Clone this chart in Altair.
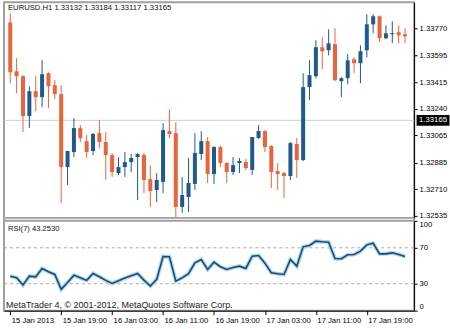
import json
import altair as alt
import pandas as pd

# ---------------- data ----------------
opens = [1.33811, 1.33489, 1.33456, 1.33193, 1.33357, 1.33318, 1.33476, 1.33397, 1.33338, 1.32857,
         1.32956, 1.33114, 1.33028, 1.32963, 1.33081, 1.33022, 1.32936, 1.32818, 1.32857, 1.32890,
         1.32923, 1.32936, 1.32778, 1.32706, 1.32759, 1.33094, 1.33081, 1.32594, 1.32660, 1.32746,
         1.32943, 1.33028, 1.32811, 1.32989, 1.32884, 1.32824, 1.32884, 1.32890, 1.32838, 1.33048,
         1.33094, 1.32996, 1.32831, 1.32818, 1.32798, 1.33009, 1.32903, 1.33384, 1.33456, 1.33647,
         1.33627, 1.33667, 1.33423, 1.33443, 1.33568, 1.33542, 1.33627, 1.33798, 1.33851, 1.33706,
         1.33733, 1.33746, 1.33733]
highs = [1.33871, 1.33575, 1.33463, 1.33390, 1.33456, 1.33561, 1.33482, 1.33430, 1.33397, 1.32963,
         1.33180, 1.33134, 1.33068, 1.33081, 1.33167, 1.33088, 1.32950, 1.32923, 1.32956, 1.32943,
         1.32950, 1.32950, 1.32870, 1.32818, 1.33147, 1.33239, 1.33153, 1.32792, 1.32917, 1.33081,
         1.33094, 1.33055, 1.32996, 1.32996, 1.32890, 1.32923, 1.32917, 1.32910, 1.33055, 1.33134,
         1.33100, 1.33002, 1.32884, 1.32824, 1.33022, 1.33048, 1.33476, 1.33561, 1.33693, 1.33713,
         1.33765, 1.33772, 1.33450, 1.33601, 1.33581, 1.33660, 1.33864, 1.33864, 1.33857, 1.33792,
         1.33818, 1.33792, 1.33772]
lows = [1.33410, 1.33344, 1.33088, 1.33114, 1.33226, 1.33252, 1.33246, 1.33305, 1.32621, 1.32739,
        1.32923, 1.33022, 1.32917, 1.32936, 1.32982, 1.32772, 1.32792, 1.32805, 1.32792, 1.32824,
        1.32640, 1.32686, 1.32594, 1.32627, 1.32686, 1.33048, 1.32528, 1.32555, 1.32561, 1.32706,
        1.32903, 1.32752, 1.32746, 1.32857, 1.32752, 1.32805, 1.32818, 1.32838, 1.32805, 1.33042,
        1.32956, 1.32719, 1.32706, 1.32653, 1.32772, 1.32785, 1.32897, 1.33298, 1.33443, 1.33502,
        1.33594, 1.33423, 1.33318, 1.33403, 1.33476, 1.33410, 1.33581, 1.33739, 1.33680, 1.33700,
        1.33673, 1.33673, 1.33673]
closes = [1.33482, 1.33456, 1.33193, 1.33357, 1.33318, 1.33469, 1.33390, 1.33338, 1.32857, 1.32963,
          1.33114, 1.33048, 1.32956, 1.33075, 1.33022, 1.32936, 1.32824, 1.32857, 1.32890, 1.32917,
          1.32943, 1.32772, 1.32699, 1.32772, 1.33101, 1.33075, 1.32594, 1.32673, 1.32752, 1.32950,
          1.33028, 1.32811, 1.32989, 1.32884, 1.32824, 1.32870, 1.32897, 1.32851, 1.33055, 1.33094,
          1.32989, 1.32824, 1.32811, 1.32798, 1.33015, 1.32903, 1.33384, 1.33463, 1.33647, 1.33621,
          1.33673, 1.33430, 1.33443, 1.33561, 1.33542, 1.33621, 1.33798, 1.33851, 1.33706, 1.33739,
          1.33740, 1.33726, 1.33719]
rsi7 = [38.4, 36.6, 28.5, 38.4, 37.7, 47.0, 43.3, 40.3, 23.7, 31.4,
        39.6, 36.6, 33.7, 41.4, 37.7, 33.7, 30.3, 33.3, 36.3, 38.9,
        41.4, 34.0, 27.4, 34.8, 60.3, 60.0, 32.9, 36.6, 41.1, 53.3,
        57.0, 45.9, 54.0, 48.9, 45.9, 48.1, 49.6, 47.0, 60.7, 61.4,
        52.9, 42.2, 41.1, 40.3, 57.0, 49.6, 71.1, 72.6, 77.4, 76.7,
        76.3, 58.1, 57.8, 62.2, 62.6, 66.3, 73.3, 75.1, 63.3, 63.3,
        64.4, 62.6, 60.3]

tick_idx = [0, 8, 16, 24, 32, 40, 48, 56]
tick_labels = ["15 Jan 2013", "15 Jan 19:00", "16 Jan 03:00", "16 Jan 11:00",
               "16 Jan 19:00", "17 Jan 03:00", "17 Jan 11:00", "17 Jan 19:00"]
price_ticks = [1.33770, 1.33595, 1.33415, 1.33240, 1.33065, 1.32885, 1.32710, 1.32535]
price_range = [1.32522, 1.33943]
rsi_ticks = [0, 30, 70, 100]
rsi_range = [0, 100]
rsi_levels = [30, 70]
current_price = 1.33165
header = "EURUSD.H1  1.33132 1.33184 1.33117 1.33165"
rsi_header = "RSI(7) 43.2530"
copyright_text = "MetaTrader 4, \u00a9 2001-2012, MetaQuotes Software Corp."

# ---------------- styling / layout ----------------
FONT = "Liberation Sans"
BLUE = "#1f5a8e"
ORANGE = "#e8643a"
FRAME = "#a0a0a0"
W = 411           # plot width
H = 309           # whole plot height (both panels)
MAIN_BOTTOM = 216
RSI_TOP = 219

n = len(opens)
df = pd.DataFrame({"i": list(range(n)), "open": opens, "high": highs,
                   "low": lows, "close": closes})
df["dir"] = ["up" if c >= o else "down" for o, c in zip(opens, closes)]
rsi_df = pd.DataFrame({"i": list(range(n)), "rsi": rsi7})
lvl_df = pd.DataFrame({"lvl": rsi_levels})
cur_df = pd.DataFrame({"p": [current_price]})

xscale = alt.Scale(domain=[-0.2, 62.64], nice=False, zero=False)
pscale = alt.Scale(domain=price_range, range=[MAIN_BOTTOM, 0], nice=False, zero=False)
rscale = alt.Scale(domain=rsi_range, range=[H, RSI_TOP], nice=False, zero=False)
col = alt.Color("dir:N", scale=alt.Scale(domain=["up", "down"], range=[BLUE, ORANGE]), legend=None)

label_expr = json.dumps(tick_labels) + "[round(datum.value / 8)]"
x_axis = alt.Axis(orient="bottom", values=tick_idx, labelExpr=label_expr, labelAlign="left",
                  labelFlush=False, labelOverlap=False, labelBound=False, title=None,
                  grid=False, tickSize=4, labelPadding=2, labelOffset=1)
p_axis = alt.Axis(orient="right", values=price_ticks, format=".5f", title=None,
                  grid=False, tickSize=3, labelPadding=2, labelFlush=False, labelOverlap=False)
r_axis = alt.Axis(orient="right", values=rsi_ticks, title=None, grid=False, tickSize=3,
                  labelFlush=True, labelPadding=2, labelOverlap=False)

X = alt.X("i:Q", scale=xscale, axis=x_axis)

# ---------------- price panel ----------------
price_line = alt.Chart(cur_df).mark_rule(color="#cfcfcf", strokeWidth=1).encode(
    y=alt.Y("p:Q", scale=pscale, axis=p_axis))
wicks = alt.Chart(df).mark_rule(strokeWidth=1).encode(
    x=X, y=alt.Y("low:Q", scale=pscale, axis=None), y2="high:Q", color=col)
bodies = alt.Chart(df).mark_bar(size=4, orient="vertical").encode(
    x=X, y=alt.Y("open:Q", scale=pscale, axis=None), y2="close:Q", color=col)
main_sep = alt.Chart(pd.DataFrame({"p": [price_range[0]]})).mark_rule(
    color=FRAME, strokeWidth=2).encode(y=alt.Y("p:Q", scale=pscale, axis=None))
header_text = alt.Chart(pd.DataFrame({"t": [header]})).mark_text(
    align="left", baseline="middle", font=FONT, fontSize=7.7, color="#111"
).encode(x=alt.value(4), y=alt.value(6), text="t:N")
box = alt.Chart(cur_df).mark_point(
    shape="M-1,-0.33H1V0.33H-1Z", filled=True, color="#000", opacity=1,
    size=1089, clip=False
).encode(x=alt.value(W + 19), y=alt.Y("p:Q", scale=pscale, axis=None))
box_text = alt.Chart(cur_df).mark_text(
    font=FONT, fontSize=7.8, color="white", align="center", baseline="middle"
).encode(x=alt.value(W + 19), y=alt.Y("p:Q", scale=pscale, axis=None),
         text=alt.Text("p:Q", format=".5f"))

# ---------------- RSI panel ----------------
rsi_sep = alt.Chart(pd.DataFrame({"r": [rsi_range[1]]})).mark_rule(
    color=FRAME, strokeWidth=2).encode(y=alt.Y("r:Q", scale=rscale, axis=None))
levels = alt.Chart(lvl_df).mark_rule(color="#a8a8a8", strokeDash=[3, 3], strokeWidth=1).encode(
    y=alt.Y("lvl:Q", scale=rscale, axis=r_axis))
glow = alt.Chart(rsi_df).mark_line(color="#a9d9ef", strokeWidth=4).encode(
    x=X, y=alt.Y("rsi:Q", scale=rscale, axis=None))
line = alt.Chart(rsi_df).mark_line(color="#1d4a78", strokeWidth=1.6).encode(
    x=X, y=alt.Y("rsi:Q", scale=rscale, axis=None))
rsi_text = alt.Chart(pd.DataFrame({"t": [rsi_header]})).mark_text(
    align="left", baseline="middle", font=FONT, fontSize=7.6, color="#111"
).encode(x=alt.value(4), y=alt.value(RSI_TOP + 8), text="t:N")
copy_text = alt.Chart(pd.DataFrame({"t": [copyright_text]})).mark_text(
    align="left", baseline="middle", font=FONT, fontSize=9, color="#222"
).encode(x=alt.value(2), y=alt.value(H - 5.5), text="t:N")

chart = alt.layer(
    price_line, main_sep, rsi_sep, levels, wicks, bodies, glow, line,
    header_text, rsi_text, copy_text, box, box_text,
).resolve_scale(y="independent").resolve_axis(y="independent").properties(
    width=W, height=H,
    padding={"left": 2, "top": 2, "right": 0, "bottom": 0},
    background="white",
).configure_view(
    stroke=FRAME, strokeWidth=2
).configure_axis(
    labelFont=FONT, labelFontSize=7.7, labelColor="#000",
    tickColor="#000", domainColor="#000", domainWidth=1, tickWidth=1,
)

chart.save("out.html", embed_options={"renderer": "svg", "actions": False})
